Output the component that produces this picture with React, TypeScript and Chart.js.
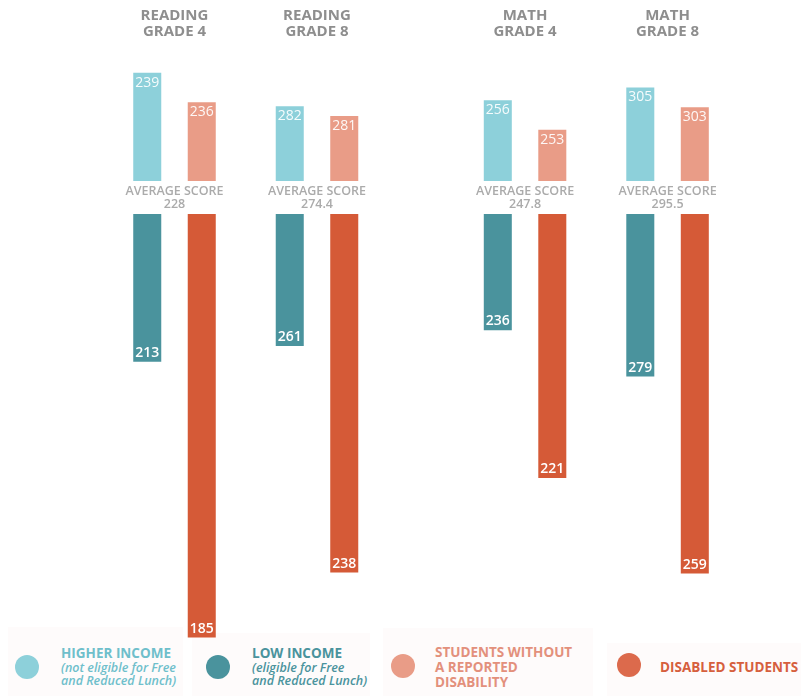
import React, { useEffect, useRef } from 'react';
import { Chart, registerables } from 'chart.js';

Chart.register(...registerables);

// ---------- data ----------
const subjects = ['READING', 'READING', 'MATH', 'MATH'];
const grades = ['GRADE 4', 'GRADE 8', 'GRADE 4', 'GRADE 8'];
const averageScores = [228, 274.4, 247.8, 295.5];
const higherIncome = [239, 282, 256, 305];
const withoutDisability = [236, 281, 253, 303];
const lowIncome = [213, 261, 236, 279];
const disabledStudents = [185, 238, 221, 259];

// ---------- styling / layout ----------
const C_HIGHER = '#8dd0da';
const C_LOW = '#4a939d';
const C_NODIS = '#e99c87';
const C_DIS = '#d55a37';
const FONT = '"Open Sans", "DejaVu Sans", sans-serif';

const W = 801;
const H = 696;
const GAP = 1.675; // half-gap (in score points) left around the average label
const SUBJECT_GAP = 0.46; // extra space between reading and math groups

const groupX = (i: number) => {
  let off = 0;
  for (let k = 1; k <= i; k++) if (subjects[k] !== subjects[k - 1]) off += SUBJECT_GAP;
  return i + off;
};

const upBars = (vals: number[]) =>
  vals.map((v, i) => ({ x: groupX(i), y: [GAP, GAP + (v - averageScores[i])] }));
const downBars = (vals: number[]) =>
  vals.map((v, i) => ({ x: groupX(i), y: [-GAP, -GAP + (v - averageScores[i])] }));

const seriesValues = [higherIncome, withoutDisability, lowIncome, disabledStudents];

const annotationPlugin = {
  id: 'scoreAnnotations',
  afterDatasetsDraw(chart: any) {
    const ctx = chart.ctx as CanvasRenderingContext2D;
    const xs = chart.scales.x;
    const ys = chart.scales.y;
    const zeroY = ys.getPixelForValue(0);
    const top = chart.chartArea.top;
    ctx.save();
    ctx.textAlign = 'center';
    ctx.textBaseline = 'middle';
    subjects.forEach((s, i) => {
      const cx = xs.getPixelForValue(groupX(i));
      ctx.font = `bold 15px ${FONT}`;
      ctx.fillStyle = '#8e8e8e';
      ctx.fillText(s, cx, top + 16);
      ctx.fillText(grades[i], cx, top + 32);
      ctx.font = `600 12.5px ${FONT}`;
      ctx.fillStyle = '#ababab';
      ctx.fillText('AVERAGE SCORE', cx, zeroY - 6.5);
      ctx.fillText(String(averageScores[i]), cx, zeroY + 6.5);
    });
    chart.data.datasets.forEach((ds: any, di: number) => {
      const meta = chart.getDatasetMeta(di);
      meta.data.forEach((bar: any, i: number) => {
        const { x, y, base } = bar.getProps(['x', 'y', 'base'], true);
        const isUp = y < base;
        ctx.font = isUp ? `14px ${FONT}` : `600 14px ${FONT}`;
        ctx.fillStyle = isUp ? 'rgba(255,255,255,0.92)' : '#ffffff';
        ctx.fillText(String(seriesValues[di][i]), x, isUp ? y + 10 : y - 9);
      });
    });
    ctx.restore();
  },
};

type LegendLine = { text: string; italic?: boolean };
const legendItems: {
  color: string;
  textColor: string;
  lines: LegendLine[];
  cx: number;
  cy: number;
  tx: number;
  ty: number[];
  box: [number, number, number, number];
}[] = [
  {
    color: C_HIGHER,
    textColor: '#6fbfcb',
    lines: [
      { text: 'HIGHER INCOME' },
      { text: '(not eligible for Free', italic: true },
      { text: 'and Reduced Lunch)', italic: true },
    ],
    cx: 27, cy: 667, tx: 61, ty: [653, 668, 681],
    box: [8, 627, 175, 69],
  },
  {
    color: C_LOW,
    textColor: '#4a939d',
    lines: [
      { text: 'LOW INCOME' },
      { text: '(eligible for Free', italic: true },
      { text: 'and Reduced Lunch)', italic: true },
    ],
    cx: 218, cy: 667, tx: 252, ty: [653, 668, 681],
    box: [192, 633, 178, 63],
  },
  {
    color: C_NODIS,
    textColor: '#e3907c',
    lines: [{ text: 'STUDENTS WITHOUT' }, { text: 'A REPORTED' }, { text: 'DISABILITY' }],
    cx: 403, cy: 666, tx: 435, ty: [652, 667, 682],
    box: [383, 628, 210, 68],
  },
  {
    color: '#dc6a4c',
    textColor: '#d65f3e',
    lines: [{ text: 'DISABLED STUDENTS' }],
    cx: 629, cy: 665, tx: 660, ty: [667],
    box: [607, 643, 194, 53],
  },
];

function Legend() {
  return (
    <>
      {legendItems.map((it, k) => (
        <React.Fragment key={k}>
          <div
            style={{
              position: 'absolute',
              left: it.box[0],
              top: it.box[1],
              width: it.box[2],
              height: it.box[3],
              background: '#fefbfb',
            }}
          />
          <div
            style={{
              position: 'absolute',
              left: it.cx - 12,
              top: it.cy - 12,
              width: 24,
              height: 24,
              borderRadius: '50%',
              background: it.color,
            }}
          />
          {it.lines.map((ln, j) => (
            <div
              key={j}
              style={{
                position: 'absolute',
                left: it.tx,
                top: it.ty[j] - 8,
                height: 16,
                lineHeight: '16px',
                whiteSpace: 'nowrap',
                fontFamily: FONT,
                fontSize: ln.italic ? 12.5 : 13.5,
                fontWeight: ln.italic ? 600 : 700,
                fontStyle: ln.italic ? 'italic' : 'normal',
                color: it.textColor,
              }}
            >
              {ln.text}
            </div>
          ))}
        </React.Fragment>
      ))}
    </>
  );
}

export default function App() {
  const canvasRef = useRef<HTMLCanvasElement | null>(null);

  useEffect(() => {
    if (!canvasRef.current) return;
    const pxPerPoint = 9.85;
    const zeroPx = 197.5;
    const groupPx = 142.5;
    const firstGroupPx = 174.5;
    const xMin = -firstGroupPx / groupPx;
    const xMax = xMin + W / groupPx;
    const yMax = zeroPx / pxPerPoint;
    const yMin = -(H - zeroPx) / pxPerPoint;

    const common = {
      borderWidth: 0,
      categoryPercentage: 0.765,
      barPercentage: 0.514,
    };

    const chart = new Chart(canvasRef.current, {
      type: 'bar',
      data: {
        datasets: [
          { label: 'Higher income', data: upBars(higherIncome) as any, backgroundColor: C_HIGHER, stack: 'income', ...common },
          { label: 'Students without a reported disability', data: upBars(withoutDisability) as any, backgroundColor: C_NODIS, stack: 'disability', ...common },
          { label: 'Low income', data: downBars(lowIncome) as any, backgroundColor: C_LOW, stack: 'income', ...common },
          { label: 'Disabled students', data: downBars(disabledStudents) as any, backgroundColor: C_DIS, stack: 'disability', ...common },
        ],
      },
      options: {
        responsive: false,
        animation: false,
        layout: { padding: 0 },
        plugins: {
          legend: { display: false },
          title: { display: false },
          tooltip: { enabled: false },
        },
        scales: {
          x: {
            type: 'linear',
            display: false,
            offset: false,
            stacked: true,
            min: xMin,
            max: xMax,
            afterBuildTicks: (scale: any) => {
              scale.ticks = subjects.map((_, i) => ({ value: groupX(i) }));
            },
          },
          y: {
            type: 'linear',
            display: false,
            stacked: false,
            min: yMin,
            max: yMax,
          },
        },
      },
      plugins: [annotationPlugin],
    });
    return () => chart.destroy();
  }, []);

  return (
    <div
      style={{
        position: 'absolute',
        left: 0,
        top: 0,
        width: W,
        height: H,
        background: '#ffffff',
        overflow: 'hidden',
        fontFamily: FONT,
      }}
    >
      <Legend />
      <canvas
        ref={canvasRef}
        width={W}
        height={H}
        style={{ position: 'absolute', left: 0, top: 0, width: W, height: H }}
      />
    </div>
  );
}
